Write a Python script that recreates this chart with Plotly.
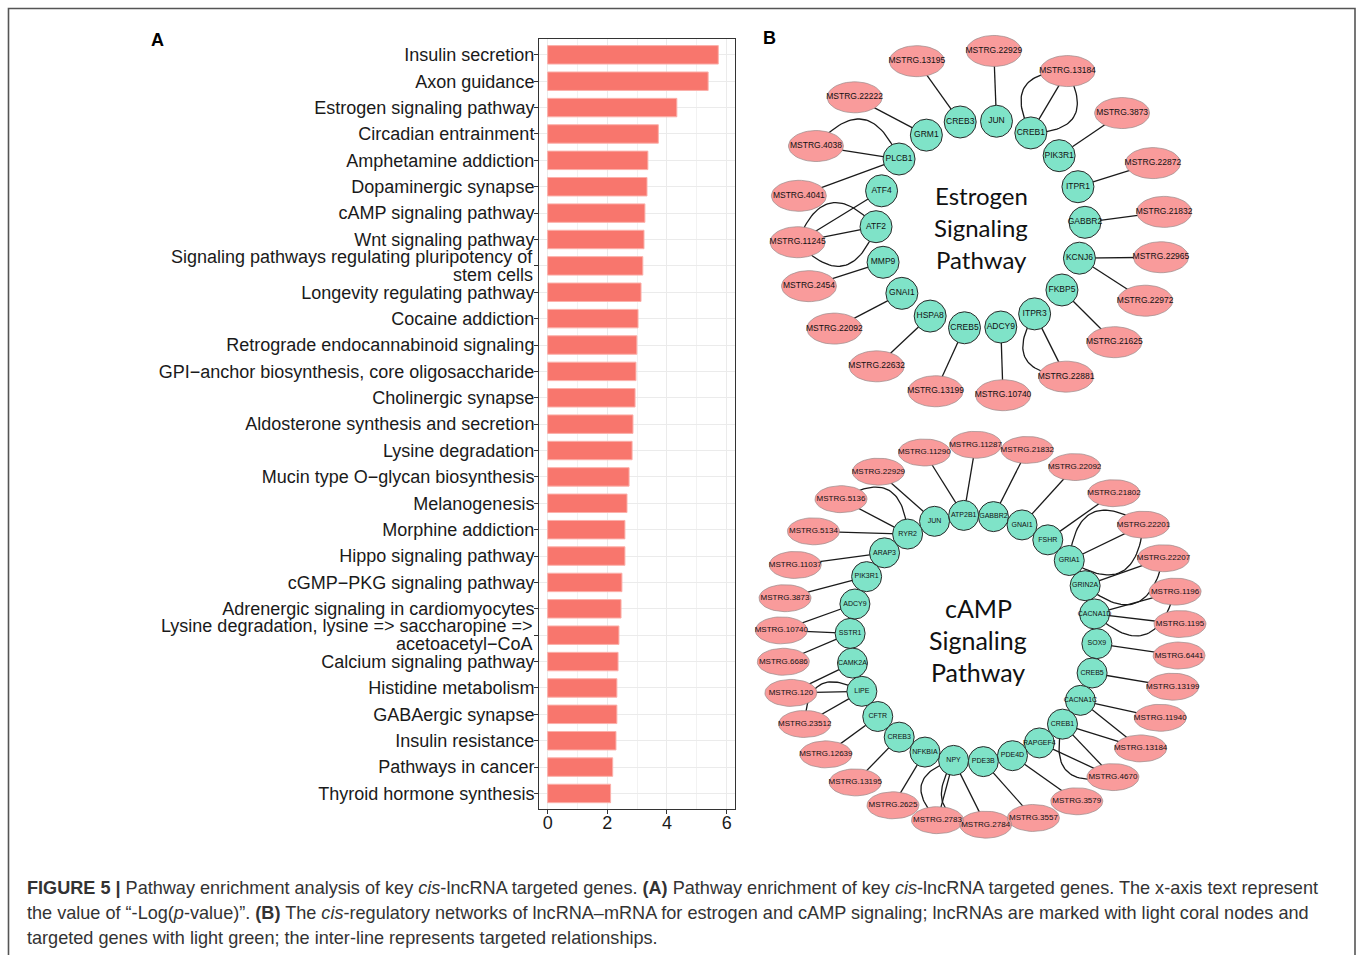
import numpy as np
import plotly.graph_objects as go

W, H = 1358, 955

# ---------------- Panel A data ----------------
pathways = [
    "Insulin secretion", "Axon guidance", "Estrogen signaling pathway", "Circadian entrainment",
    "Amphetamine addiction", "Dopaminergic synapse", "cAMP signaling pathway", "Wnt signaling pathway",
    "Signaling pathways regulating pluripotency of<br>stem cells", "Longevity regulating pathway",
    "Cocaine addiction", "Retrograde endocannabinoid signaling",
    "GPI\u2212anchor biosynthesis, core oligosaccharide", "Cholinergic synapse",
    "Aldosterone synthesis and secretion", "Lysine degradation", "Mucin type O\u2212glycan biosynthesis",
    "Melanogenesis", "Morphine addiction", "Hippo signaling pathway", "cGMP\u2212PKG signaling pathway",
    "Adrenergic signaling in cardiomyocytes",
    "Lysine degradation, lysine => saccharopine =><br>acetoacetyl\u2212CoA",
    "Calcium signaling pathway", "Histidine metabolism", "GABAergic synapse", "Insulin resistance",
    "Pathways in cancer", "Thyroid hormone synthesis",
]
neg_log_p = [5.72, 5.38, 4.33, 3.71, 3.36, 3.33, 3.26, 3.23, 3.19, 3.13, 3.03, 2.99, 2.96, 2.93,
             2.86, 2.83, 2.73, 2.66, 2.59, 2.59, 2.49, 2.46, 2.39, 2.36, 2.32, 2.32, 2.29, 2.18, 2.11]
x_tick_vals = [0, 2, 4, 6]

# ---------------- Panel B data : estrogen network ----------------
est_genes = ["JUN", "CREB1", "PIK3R1", "ITPR1", "GABBR2", "KCNJ6", "FKBP5", "ITPR3", "ADCY9",
             "CREB5", "HSPA8", "GNAI1", "MMP9", "ATF2", "ATF4", "PLCB1", "GRM1", "CREB3"]
est_lncs = ["MSTRG.22929", "MSTRG.13184", "MSTRG.3873", "MSTRG.22872", "MSTRG.21832", "MSTRG.22965",
            "MSTRG.22972", "MSTRG.21625", "MSTRG.22881", "MSTRG.10740", "MSTRG.13199", "MSTRG.22632",
            "MSTRG.22092", "MSTRG.2454", "MSTRG.11245", "MSTRG.4041", "MSTRG.4038", "MSTRG.22222",
            "MSTRG.13195"]
est_edges = [
    ("JUN", "MSTRG.22929", 1), ("CREB1", "MSTRG.13184", 3), ("PIK3R1", "MSTRG.3873", 1),
    ("ITPR1", "MSTRG.22872", 1), ("GABBR2", "MSTRG.21832", 1), ("KCNJ6", "MSTRG.22965", 1),
    ("KCNJ6", "MSTRG.22972", 1), ("FKBP5", "MSTRG.21625", 1), ("ITPR3", "MSTRG.22881", 2),
    ("ADCY9", "MSTRG.10740", 1), ("CREB5", "MSTRG.13199", 1), ("HSPA8", "MSTRG.22632", 1),
    ("GNAI1", "MSTRG.22092", 1), ("MMP9", "MSTRG.2454", 1), ("ATF2", "MSTRG.11245", 3),
    ("ATF4", "MSTRG.11245", 1), ("PLCB1", "MSTRG.4041", 1), ("PLCB1", "MSTRG.4038", 2),
    ("GRM1", "MSTRG.22222", 1), ("CREB3", "MSTRG.13195", 1),
]

# ---------------- Panel B data : cAMP network ----------------
camp_genes = ["JUN", "ATP2B1", "GABBR2", "GNAI1", "FSHR", "GRIA1", "GRIN2A", "CACNA1D", "SOX9",
              "CREB5", "CACNA1C", "CREB1", "RAPGEF4", "PDE4D", "PDE3B", "NPY", "NFKBIA", "CREB3",
              "CFTR", "LIPE", "CAMK2A", "SSTR1", "ADCY9", "PIK3R1", "ARAP3", "RYR2"]
camp_lncs = ["MSTRG.11287", "MSTRG.21832", "MSTRG.22092", "MSTRG.21802", "MSTRG.22201",
             "MSTRG.22207", "MSTRG.1196", "MSTRG.1195", "MSTRG.6441", "MSTRG.13199", "MSTRG.11940",
             "MSTRG.13184", "MSTRG.4670", "MSTRG.3579", "MSTRG.3557", "MSTRG.2784", "MSTRG.2783",
             "MSTRG.2625", "MSTRG.13195", "MSTRG.12639", "MSTRG.23512", "MSTRG.120", "MSTRG.6686",
             "MSTRG.10740", "MSTRG.3873", "MSTRG.11037", "MSTRG.5134", "MSTRG.5136", "MSTRG.22929",
             "MSTRG.11290"]
camp_edges = [
    ("ATP2B1", "MSTRG.11287", 1), ("ATP2B1", "MSTRG.11290", 1), ("GABBR2", "MSTRG.21832", 1),
    ("GNAI1", "MSTRG.22092", 1), ("FSHR", "MSTRG.21802", 1), ("GRIA1", "MSTRG.22201", 3),
    ("GRIN2A", "MSTRG.22207", 2), ("CACNA1D", "MSTRG.1196", 2), ("CACNA1D", "MSTRG.1195", 1),
    ("SOX9", "MSTRG.6441", 1), ("CREB5", "MSTRG.13199", 1), ("CACNA1C", "MSTRG.11940", 1),
    ("CACNA1C", "MSTRG.13184", 1), ("CREB1", "MSTRG.13184", 1), ("CREB1", "MSTRG.4670", 2),
    ("RAPGEF4", "MSTRG.4670", 1), ("PDE4D", "MSTRG.3579", 1), ("PDE3B", "MSTRG.3557", 1),
    ("NPY", "MSTRG.2784", 2), ("NPY", "MSTRG.2783", 2), ("NFKBIA", "MSTRG.2625", 1),
    ("CREB3", "MSTRG.13195", 1), ("CFTR", "MSTRG.12639", 1), ("LIPE", "MSTRG.23512", 2),
    ("LIPE", "MSTRG.120", 1), ("CAMK2A", "MSTRG.120", 1), ("SSTR1", "MSTRG.6686", 1),
    ("SSTR1", "MSTRG.10740", 1), ("ADCY9", "MSTRG.10740", 1), ("PIK3R1", "MSTRG.3873", 1),
    ("ARAP3", "MSTRG.11037", 1), ("RYR2", "MSTRG.5134", 1), ("RYR2", "MSTRG.5136", 2),
    ("JUN", "MSTRG.22929", 1),
]

caption_lines = [
    "<b>FIGURE 5 |</b> Pathway enrichment analysis of key <i>cis</i>-lncRNA targeted genes. "
    "<b>(A)</b> Pathway enrichment of key <i>cis</i>-lncRNA targeted genes. The x-axis text represent",
    "the value of \u201c-Log(<i>p</i>-value)\u201d. <b>(B)</b> The <i>cis</i>-regulatory networks of "
    "lncRNA\u2013mRNA for estrogen and cAMP signaling; lncRNAs are marked with light coral nodes and",
    "targeted genes with light green; the inter-line represents targeted relationships.",
]

# ---------------- styling ----------------
BAR = "#F8766D"
PINK = "#F99B9B"
GREEN = "#7FE3C8"
LABEL_FONT = "Liberation Sans, Arial, sans-serif"
TICK_FONT_SIZE = 18


def ring(names, cx, cy, rx, ry, start_deg, warp2=0.0, warp1=0.0):
    """Evenly spaced circular layout (optionally slightly warped) in page pixels."""
    n = len(names)
    base = start_deg - 360.0 * np.arange(n) / n
    deg = base - warp2 * np.sin(np.deg2rad(2 * base)) - warp1 * np.cos(np.deg2rad(base))
    ang = np.deg2rad(deg)
    return {nm: (cx + rx * np.cos(a), cy - ry * np.sin(a)) for nm, a in zip(names, ang)}


def edge_xy(edges, pos):
    xs, ys = [], []
    t = np.linspace(0, 1, 40)
    for g, l, k in edges:
        x0, y0 = pos[g]
        x1, y1 = pos[l]
        for o in [0.0, 0.8, -0.8][:k]:
            if o == 0.0:
                xs += [x0, x1, None]
                ys += [y0, y1, None]
            else:
                mx, my = (x0 + x1) / 2, (y0 + y1) / 2
                dx, dy = x1 - x0, y1 - y0
                qx, qy = mx - dy * o, my + dx * o
                bx = (1 - t) ** 2 * x0 + 2 * (1 - t) * t * qx + t ** 2 * x1
                by = (1 - t) ** 2 * y0 + 2 * (1 - t) * t * qy + t ** 2 * y1
                xs += list(bx) + [None]
                ys += list(by) + [None]
    return xs, ys


def ellipse_xy(names, pos, rx, ry):
    xs, ys = [], []
    th = np.linspace(0, 2 * np.pi, 48)
    for nm in names:
        cx, cy = pos[nm]
        xs += list(cx + rx * np.cos(th)) + [None]
        ys += list(cy + ry * np.sin(th)) + [None]
    return xs, ys


fig = go.Figure()

# ---------------- Panel A ----------------
fig.add_trace(go.Bar(
    x=neg_log_p, y=pathways, orientation="h", width=0.7,
    marker=dict(color=BAR, line=dict(color="#FBB0AA", width=1)),
    xaxis="x", yaxis="y", showlegend=False,
))

# multi-line category labels are written as two separate tight lines
tick_text = []
annotations = []
for p in pathways:
    if "<br>" in p:
        tick_text.append("")
        first, second = p.split("<br>")
        for line, shift in ((first, 9), (second, -9)):
            annotations.append(dict(x=534.5, y=p, xref="x2", yref="y", text=line, showarrow=False,
                                    xanchor="right", yanchor="middle", yshift=shift,
                                    font=dict(size=TICK_FONT_SIZE, color="#1a1a1a",
                                              family=LABEL_FONT)))
    else:
        tick_text.append(p)


def add_network(genes, lncs, edges, gc, gr, pc, prx, pry, g_start, p_start,
                node_d, ell_rx, ell_ry, gfont, pfont, warp2, warp1):
    gpos = ring(genes, gc[0], gc[1], gr, gr, g_start)
    ppos = ring(lncs, pc[0], pc[1], prx, pry, p_start, warp2, warp1)
    pos = {**gpos, **ppos}
    ex, ey = edge_xy(edges, pos)
    fig.add_trace(go.Scatter(x=ex, y=ey, mode="lines", line=dict(color="#1a1a1a", width=1.3),
                             xaxis="x2", yaxis="y2", showlegend=False, hoverinfo="skip"))
    px_, py_ = ellipse_xy(lncs, ppos, ell_rx, ell_ry)
    fig.add_trace(go.Scatter(x=px_, y=py_, mode="lines", fill="toself", fillcolor=PINK,
                             line=dict(color="#9a8a8a", width=0.7),
                             xaxis="x2", yaxis="y2", showlegend=False, hoverinfo="skip"))
    fig.add_trace(go.Scatter(
        x=[ppos[n][0] for n in lncs], y=[ppos[n][1] for n in lncs], text=lncs,
        mode="text", textfont=dict(size=pfont, color="#111", family=LABEL_FONT),
        xaxis="x2", yaxis="y2", showlegend=False, hoverinfo="skip"))
    fig.add_trace(go.Scatter(
        x=[gpos[n][0] for n in genes], y=[gpos[n][1] for n in genes], text=genes,
        mode="markers+text", textposition="middle center",
        marker=dict(size=node_d, color=GREEN, line=dict(color="#2a2a2a", width=1)),
        textfont=dict(size=gfont, color="#111", family=LABEL_FONT),
        xaxis="x2", yaxis="y2", showlegend=False, hoverinfo="skip"))


add_network(est_genes, est_lncs, est_edges, (980.5, 224.5), 104.5, (980.5, 223.5), 184, 173,
            81.2, 86.8, 32, 27.5, 15.5, 8.5, 8.5, 6.0, 5.0)
add_network(camp_genes, camp_lncs, camp_edges, (973.5, 638.5), 123.5, (980.8, 634.7), 199.5, 190,
            108.4, 91.2, 30, 26, 13.5, 7, 8, 6.0, 2.5)

for i, w in enumerate(["Estrogen", "Signaling", "Pathway"]):
    annotations.append(dict(x=981, y=195 + 32 * i, xref="x2", yref="y2", text=w, showarrow=False,
                            font=dict(size=24, family="Lato, Open Sans, sans-serif", color="#111")))
for i, w in enumerate(["cAMP", "Signaling", "Pathway"]):
    annotations.append(dict(x=978, y=608 + 32 * i, xref="x2", yref="y2", text=w, showarrow=False,
                            font=dict(size=25, family="Lato, Open Sans, sans-serif", color="#111")))
annotations.append(dict(x=157, y=40, xref="x2", yref="y2", text="<b>A</b>", showarrow=False,
                        font=dict(size=18, family=LABEL_FONT, color="#000")))
annotations.append(dict(x=769, y=38, xref="x2", yref="y2", text="<b>B</b>", showarrow=False,
                        font=dict(size=18, family=LABEL_FONT, color="#000")))
for i, line in enumerate(caption_lines):
    annotations.append(dict(x=25, y=888 + 25 * i, xref="x2", yref="y2", text=line,
                            showarrow=False, xanchor="left", yanchor="middle",
                            font=dict(size=18.1, color="#333",
                                      family="Liberation Sans Narrow, Arial Narrow, sans-serif")))

fig.update_layout(
    width=W, height=H, margin=dict(l=0, r=0, t=0, b=0),
    paper_bgcolor="white", plot_bgcolor="rgba(0,0,0,0)",
    font=dict(family=LABEL_FONT, color="#1a1a1a"),
    xaxis=dict(domain=[539 / W, 735 / W], anchor="y", range=[-0.29, 6.28],
               tickvals=x_tick_vals, ticks="outside", ticklen=4, tickcolor="#333",
               ticklabelstandoff=-7,
               tickfont=dict(size=TICK_FONT_SIZE, color="#1a1a1a"),
               showgrid=True, gridcolor="#EBEBEB", gridwidth=1.1,
               minor=dict(dtick=1, tick0=0, showgrid=True, gridcolor="#F2F2F2", gridwidth=0.6),
               showline=True, mirror=True, linecolor="#333", linewidth=1, zeroline=False),
    yaxis=dict(domain=[1 - 809.3 / H, 1 - 39 / H], anchor="x", type="category",
               categoryorder="array", categoryarray=pathways, range=[28.6, -0.6],
               tickvals=pathways, ticktext=tick_text,
               ticks="outside", ticklen=4, tickcolor="#333", ticklabelstandoff=-4,
               tickfont=dict(size=TICK_FONT_SIZE, color="#1a1a1a"),
               showgrid=True, gridcolor="#EBEBEB", gridwidth=1.1,
               showline=True, mirror=True, linecolor="#333", linewidth=1, zeroline=False),
    xaxis2=dict(domain=[0, 1], anchor="y2", range=[0, W], visible=False, fixedrange=True),
    yaxis2=dict(domain=[0, 1], anchor="x2", range=[H, 0], visible=False, fixedrange=True),
    annotations=annotations,
    shapes=[dict(type="rect", xref="x2", yref="y2", x0=8.5, x1=1355, y0=8.5, y1=1100,
                 line=dict(color="#555", width=1.6), fillcolor="rgba(0,0,0,0)", layer="below")],
)

fig.write_html("out.html", config={"displayModeBar": False},
               post_script="document.body.style.margin='0';document.body.style.overflow='hidden';")
